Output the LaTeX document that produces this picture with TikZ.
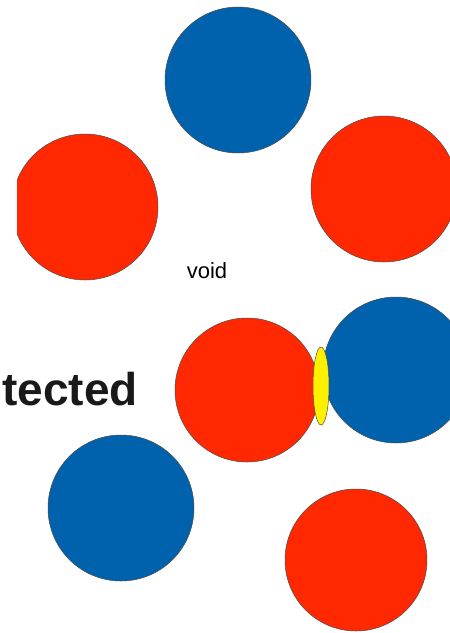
\documentclass[tikz,border=0pt]{standalone}
\usepackage{fontspec}
\setmainfont{Liberation Sans}
\usetikzlibrary{shapes.geometric}
\definecolor{ballblue}{RGB}{0,98,172}
\definecolor{ballred}{RGB}{255,40,0}
\definecolor{ballyellow}{RGB}{255,240,0}
\begin{document}
\begin{tikzpicture}[x=1pt,y=-1pt,
  ball/.style={circle,draw=black!70,line width=0.5pt,inner sep=0pt,minimum size=146pt},
  blueball/.style={ball,fill=ballblue},
  redball/.style={ball,fill=ballred}]
\useasboundingbox (0,0) rectangle (450,633);
\clip (0,0) rectangle (450,633);
\fill[white] (0,0) rectangle (450,633);
\node[anchor=base east,inner sep=0pt,text=black!90,font=\bfseries\fontsize{46}{48}\selectfont] (tected) at (138,405) {tected};
\begin{scope}
\clip (17,0) rectangle (450,633);
\node[blueball] (b1) at (238,80) {};
\node[redball] (r1) at (85,207) {};
\node[redball] (r2) at (384,189) {};
\node[font=\fontsize{22}{24}\selectfont] (void) at (207,271) {void};
\node[redball,minimum size=144pt] (r3) at (247,390) {};
\node[blueball] (b2) at (396,370) {};
\node[ellipse,draw=black!70,fill=ballyellow,line width=0.5pt,inner sep=0pt,minimum width=16pt,minimum height=78pt] (y1) at (321,386) {};
\node[blueball] (b3) at (121,508) {};
\node[redball,minimum size=142pt] (r4) at (356,560) {};
\end{scope}
\end{tikzpicture}
\end{document}
